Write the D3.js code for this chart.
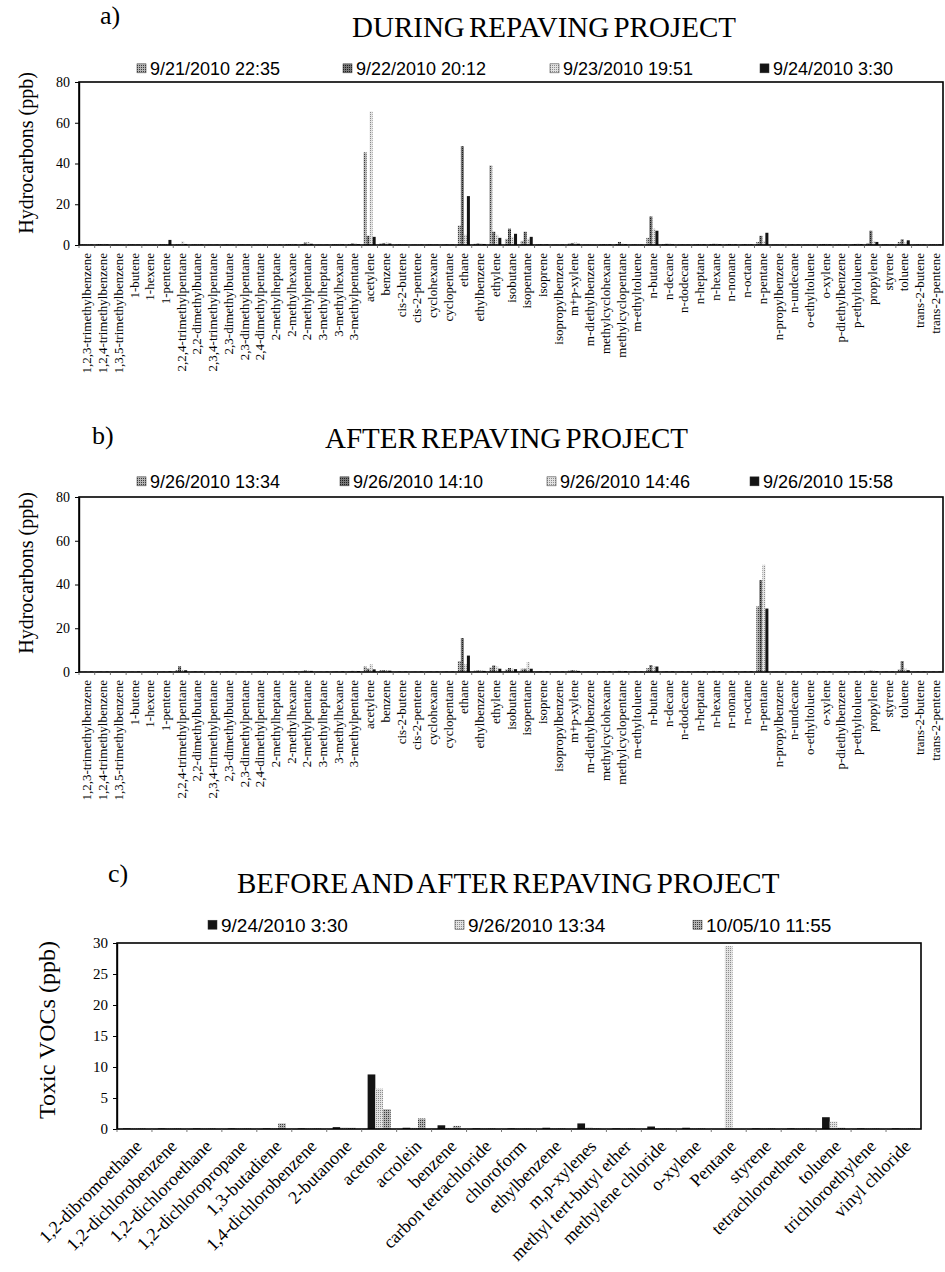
<!DOCTYPE html>
<html>
<head>
<meta charset="utf-8">
<script src="https://cdn.jsdelivr.net/npm/d3@7"></script>
<style>
  body { margin: 0; background: #fff; }
  svg { display: block; font-family: "Liberation Serif", "Times New Roman", serif; }
</style>
</head>
<body>
<svg id="svg"></svg>
<script>
// hydrocarbon species (panels a and b)
const hcNames = [
  '1,2,3-trimethylbenzene', '1,2,4-trimethylbenzene', '1,3,5-trimethylbenzene', '1-butene', '1-hexene',
  '1-pentene', '2,2,4-trimethylpentane', '2,2-dimethylbutane', '2,3,4-trimethylpentane', '2,3-dimethylbutane',
  '2,3-dimethylpentane', '2,4-dimethylpentane', '2-methylheptane', '2-methylhexane', '2-methylpentane',
  '3-methylheptane', '3-methylhexane', '3-methylpentane', 'acetylene', 'benzene',
  'cis-2-butene', 'cis-2-pentene', 'cyclohexane', 'cyclopentane', 'ethane',
  'ethylbenzene', 'ethylene', 'isobutane', 'isopentane', 'isoprene',
  'isopropylbenzene', 'm+p-xylene', 'm-diethylbenzene', 'methylcyclohexane', 'methylcyclopentane',
  'm-ethyltoluene', 'n-butane', 'n-decane', 'n-dodecane', 'n-heptane',
  'n-hexane', 'n-nonane', 'n-octane', 'n-pentane', 'n-propylbenzene',
  'n-undecane', 'o-ethyltoluene', 'o-xylene', 'p-diethylbenzene', 'p-ethyltoluene',
  'propylene', 'styrene', 'toluene', 'trans-2-butene', 'trans-2-pentene'
];

// a) during repaving
const duringDates = ['9/21/2010 22:35', '9/22/2010 20:12', '9/23/2010 19:51', '9/24/2010 3:30'];
const during0921 = [0.3,0.5,0.2,0.3,0.2, 0.4,0.3,0.3,0.2,0.2, 0.3,0.2,0.2,0.4,0.5, 0.2,0.4,0.4,45.5,0.8,
  0.2,0.2,0.3,0.2,9.5, 0.6,39,3,2,0.3, 0.2,0.8,0.2,0.3,0.5, 0.3,3.5,0.4,0.2,0.3,
  0.5,0.3,0.3,1.5,0.2, 0.2,0.2,0.4,0.2,0.3, 1,0.3,1.5,0.2,0.3];
const during0922 = [0.2,0.4,0.2,0.3,0.1, 0.3,0.3,0.3,0.2,0.3, 0.3,0.2,0.2,0.4,1.2, 0.2,0.3,0.8,4.5,1.0,
  0.3,0.2,0.3,0.3,48.5, 0.8,6.5,8,6.5,0.4, 0.2,1.0,0.2,0.4,1.5, 0.3,14,0.6,0.3,0.4,
  0.6,0.5,0.4,4.5,0.2, 0.3,0.2,0.5,0.3,0.5, 7,0.3,2.8,0.3,0.3];
const during0923 = [0.3,0.6,0.3,0.4,0.2, 0.5,1.8,0.5,0.3,0.4, 0.4,0.3,0.3,0.6,1.5, 0.3,0.6,1.0,65.5,1.2,
  0.4,0.3,0.4,0.3,5, 0.9,5,4,3,0.5, 0.3,1.2,0.3,0.5,0.8, 0.4,8,0.8,0.4,0.5,
  0.8,0.5,0.5,2,0.3, 0.3,0.3,0.6,0.3,0.8, 2,0.4,1.2,0.4,0.5];
const during0924 = [0.2,0.3,0.1,0.2,0.1, 2.5,0.5,0.3,0.2,0.2, 0.2,0.2,0.2,0.3,0.6, 0.2,0.3,0.4,4,0.7,
  0.2,0.2,0.2,0.2,24, 0.5,3.5,5.5,4,0.3, 0.2,0.6,0.1,0.3,0.4, 0.2,7,0.3,0.2,0.3,
  0.4,0.3,0.3,6,0.2, 0.2,0.2,0.3,0.2,0.4, 1.5,0.2,2.3,0.2,0.3];

// b) after repaving
const afterDates = ['9/26/2010 13:34', '9/26/2010 14:10', '9/26/2010 14:46', '9/26/2010 15:58'];
const after1334 = [0.2,0.3,0.1,0.2,0.1, 0.3,0.8,0.3,0.2,0.2, 0.3,0.2,0.2,0.3,0.5, 0.2,0.3,0.4,2.5,0.8,
  0.2,0.2,0.3,0.2,5, 0.6,2,1.2,1.5,0.3, 0.2,0.6,0.2,0.3,0.4, 0.2,1.8,0.3,0.2,0.3,
  0.4,0.3,0.3,30,0.2, 0.2,0.2,0.3,0.2,0.3, 0.5,0.3,1.2,0.2,0.2];
const after1410 = [0.2,0.3,0.1,0.2,0.1, 0.3,2.6,0.4,0.2,0.3, 0.3,0.2,0.2,0.3,0.7, 0.2,0.3,0.5,1.5,0.8,
  0.3,0.2,0.3,0.3,15.5, 0.7,3,1.8,1.5,0.4, 0.2,0.8,0.2,0.4,0.5, 0.3,3.2,0.4,0.3,0.3,
  0.5,0.3,0.4,42,0.2, 0.3,0.2,0.4,0.2,0.4, 0.6,0.3,5,0.3,0.3];
const after1446 = [0.2,0.3,0.1,0.2,0.1, 0.4,1,0.4,0.2,0.3, 0.3,0.2,0.2,0.3,0.6, 0.2,0.3,0.5,3.5,0.9,
  0.3,0.2,0.3,0.3,3.5, 0.8,2.5,1.5,4.5,0.4, 0.2,0.9,0.2,0.4,0.5, 0.3,2.5,0.4,0.3,0.4,
  0.5,0.3,0.4,49,0.2, 0.3,0.2,0.4,0.2,0.4, 0.6,0.3,1.5,0.3,0.3];
const after1558 = [0.2,0.2,0.1,0.2,0.1, 0.3,0.8,0.3,0.2,0.2, 0.2,0.2,0.2,0.3,0.5, 0.2,0.3,0.4,1.2,0.6,
  0.2,0.2,0.2,0.2,7.5, 0.5,1.5,1.3,1.5,0.3, 0.2,0.5,0.1,0.3,0.4, 0.2,2.5,0.3,0.2,0.3,
  0.4,0.3,0.3,29,0.2, 0.2,0.2,0.3,0.2,0.3, 0.4,0.2,0.8,0.2,0.2];

// c) toxic VOCs before and after
const toxicNames = [
  '1,2-dibromoethane', '1,2-dichlorobenzene', '1,2-dichloroethane', '1,2-dichloropropane', '1,3-butadiene',
  '1,4-dichlorobenzene', '2-butanone', 'acetone', 'acrolein', 'benzene',
  'carbon tetrachloride', 'chloroform', 'ethylbenzene', 'm,p-xylenes', 'methyl tert-butyl ether',
  'methylene chloride', 'o-xylene', 'Pentane', 'styrene', 'tetrachloroethene',
  'toluene', 'trichloroethylene', 'vinyl chloride'
];
const toxicDates = ['9/24/2010 3:30', '9/26/2010 13:34', '10/05/10 11:55'];
const toxic0924 = [0.1,0.1,0.1,0.1,0.1, 0.1,0.3,8.8,0.2,0.6, 0.1,0.1,0.2,0.9,0.1, 0.4,0.2,0,0.1,0.1, 1.9,0.1,0.1];
const toxic0926 = [0.1,0.1,0.1,0.1,0.1, 0.1,0.3,6.5,0.2,0.2, 0.1,0.1,0.1,0.3,0.1, 0.1,0.1,29.5,0.1,0.1, 1.2,0.1,0.1];
const toxic1005 = [0.1,0.1,0.1,0.1,0.9, 0.1,0.2,3.2,1.7,0.5, 0.1,0.1,0.1,0.1,0.1, 0.1,0.1,0,0.1,0.1, 0.2,0.1,0.1];

const width = 945, height = 1272;
const svg = d3.select('#svg').attr('width', width).attr('height', height);

// stippled fills, like the scanned Excel patterns
const defs = svg.append('defs');
[['pat-mid', '#b4b4b4', '#3c3c3c'], ['pat-dark', '#787878', '#1e1e1e'], ['pat-light', '#e2e2e2', '#8c8c8c']]
  .forEach(([id, bg, dot]) => {
    const p = defs.append('pattern').attr('id', id)
      .attr('width', 2).attr('height', 2).attr('patternUnits', 'userSpaceOnUse');
    p.append('rect').attr('width', 2).attr('height', 2).attr('fill', bg);
    p.append('rect').attr('width', 1).attr('height', 1).attr('fill', dot);
  });

function drawPanel(cfg) {
  const g = svg.append('g');
  const x0 = d3.scaleBand().domain(cfg.cats).range([cfg.left, cfg.right]);
  const x1 = d3.scaleBand().domain(d3.range(cfg.series.length))
    .range([0, x0.bandwidth()]).paddingOuter(cfg.outerPad);
  const y = d3.scaleLinear().domain([0, cfg.yMax]).range([cfg.bottom, cfg.top]);

  // bars, one series at a time
  cfg.values.forEach((vals, si) => {
    g.append('g')
      .selectAll('rect')
      .data(vals)
      .enter()
      .append('rect')
        .attr('x', (d, i) => x0(cfg.cats[i]) + x1(si))
        .attr('y', d => y(d))
        .attr('width', x1.bandwidth())
        .attr('height', d => y(0) - y(d))
        .attr('fill', cfg.colors[si]);
  });

  // plot frame
  g.append('rect')
    .attr('x', cfg.left).attr('y', cfg.top)
    .attr('width', cfg.right - cfg.left).attr('height', cfg.bottom - cfg.top)
    .attr('fill', 'none').attr('stroke', '#000').attr('stroke-width', 1.6);

  // y axis
  const yAxis = g.append('g')
    .attr('transform', `translate(${cfg.left},0)`)
    .call(d3.axisLeft(y).tickValues(cfg.yTicks).tickSize(4).tickPadding(5).tickSizeOuter(0));
  yAxis.select('.domain').attr('stroke-width', 1.4);
  yAxis.selectAll('text')
    .attr('font-family', '"Liberation Serif", serif')
    .attr('font-size', cfg.tickFont)
    .attr('fill', '#000');

  // small ticks between categories
  g.append('g')
    .selectAll('line')
    .data(cfg.cats)
    .enter()
    .append('line')
      .attr('x1', d => x0(d)).attr('x2', d => x0(d))
      .attr('y1', cfg.bottom).attr('y2', cfg.bottom + 3)
      .attr('stroke', '#555').attr('stroke-width', 0.8);

  // category labels
  g.append('g')
    .selectAll('text')
    .data(cfg.cats)
    .enter()
    .append('text')
      .attr('transform', d => `translate(${x0(d) + x0.bandwidth() / 2 + cfg.labelDx},${cfg.bottom + cfg.labelDy}) rotate(${cfg.labelRotate})`)
      .attr('text-anchor', 'end')
      .attr('dy', '0.35em')
      .attr('font-size', cfg.labelFont)
      .text(d => d);

  // y title
  g.append('text')
    .attr('transform', `translate(${cfg.yTitleX},${cfg.yTitleY}) rotate(-90)`)
    .attr('text-anchor', 'middle')
    .attr('font-size', cfg.yTitleFont)
    .text(cfg.yTitle);

  // panel letter and title (scan has tight word gaps)
  g.append('text')
    .attr('x', cfg.letterX).attr('y', cfg.letterY)
    .attr('font-size', 26)
    .text(cfg.letter);
  g.append('text')
    .attr('x', cfg.titleX).attr('y', cfg.titleY)
    .attr('font-size', 29)
    .attr('word-spacing', -3)
    .text(cfg.title);

  // legend
  const leg = g.append('g')
    .selectAll('g')
    .data(cfg.series)
    .enter()
    .append('g')
      .attr('transform', (d, i) => `translate(${cfg.legendX[i]},${cfg.legendY})`);
  leg.append('rect')
    .attr('x', 0).attr('y', -cfg.legendFont * 0.62)
    .attr('width', 9).attr('height', 9)
    .attr('fill', (d, i) => cfg.colors[i])
    .attr('stroke', '#333').attr('stroke-width', 0.5);
  leg.append('text')
    .attr('x', 13)
    .attr('font-family', '"Liberation Sans", Arial, sans-serif')
    .attr('font-size', cfg.legendFont)
    .text(d => d);
}

const hcColors = ['url(#pat-mid)', 'url(#pat-dark)', 'url(#pat-light)', '#141414'];

drawPanel({
  cats: hcNames, series: duringDates,
  values: [during0921, during0922, during0923, during0924],
  colors: hcColors, outerPad: 0.6,
  left: 79, right: 943, top: 82, bottom: 245,
  yMax: 80, yTicks: [0, 20, 40, 60, 80], tickFont: 14,
  labelRotate: -90, labelDx: 0, labelDy: 8, labelFont: 13,
  yTitle: 'Hydrocarbons (ppb)', yTitleX: 33, yTitleY: 153, yTitleFont: 20,
  letter: 'a)', letterX: 100, letterY: 24,
  title: 'DURING REPAVING PROJECT', titleX: 352, titleY: 37,
  legendX: [137, 343, 550, 760], legendY: 75, legendFont: 18
});

drawPanel({
  cats: hcNames, series: afterDates,
  values: [after1334, after1410, after1446, after1558],
  colors: hcColors, outerPad: 0.6,
  left: 79, right: 943, top: 497, bottom: 672,
  yMax: 80, yTicks: [0, 20, 40, 60, 80], tickFont: 14,
  labelRotate: -90, labelDx: 0, labelDy: 8, labelFont: 13,
  yTitle: 'Hydrocarbons (ppb)', yTitleX: 33, yTitleY: 573, yTitleFont: 20,
  letter: 'b)', letterX: 92, letterY: 444,
  title: 'AFTER REPAVING PROJECT', titleX: 325, titleY: 448,
  legendX: [137, 340, 547, 750], legendY: 488, legendFont: 18
});

drawPanel({
  cats: toxicNames, series: toxicDates,
  values: [toxic0924, toxic0926, toxic1005],
  colors: ['#141414', 'url(#pat-light)', 'url(#pat-mid)'], outerPad: 0.77,
  left: 117, right: 921, top: 943, bottom: 1129,
  yMax: 30, yTicks: [0, 5, 10, 15, 20, 25, 30], tickFont: 15,
  labelRotate: -45, labelDx: 4, labelDy: 14, labelFont: 18,
  yTitle: 'Toxic VOCs (ppb)', yTitleX: 55, yTitleY: 1030, yTitleFont: 24,
  letter: 'c)', letterX: 108, letterY: 882,
  title: 'BEFORE AND AFTER REPAVING PROJECT', titleX: 237, titleY: 893,
  legendX: [208, 455, 693], legendY: 932, legendFont: 19
});
</script>
</body>
</html>
